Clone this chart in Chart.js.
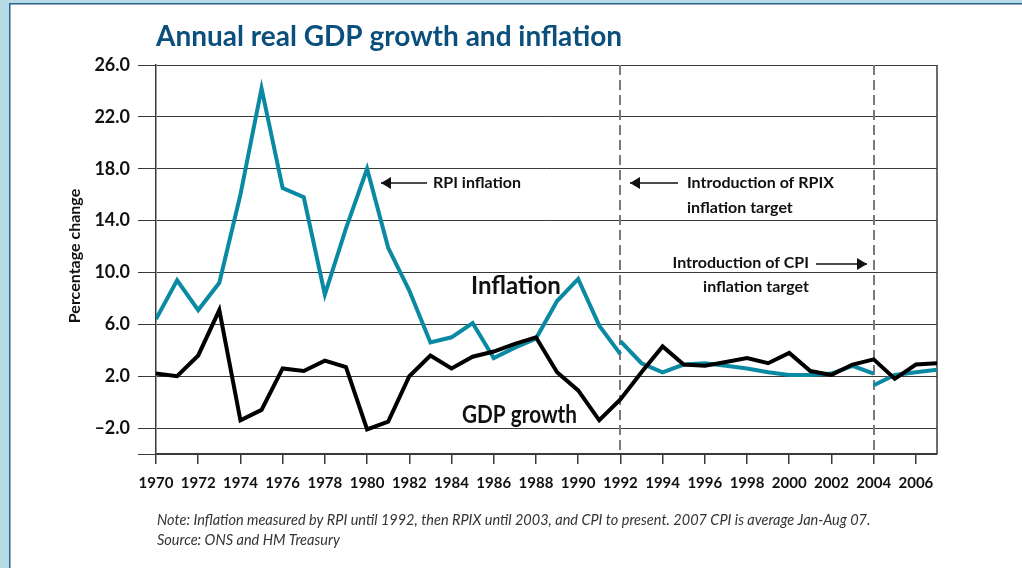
<!DOCTYPE html>
<html>
<head>
<meta charset="utf-8">
<script src="https://cdn.jsdelivr.net/npm/chart.js@4/dist/chart.umd.min.js"></script>
<style>
  html, body { margin: 0; padding: 0; background: #fff; }
  #wrap { width: 1022px; height: 568px; position: relative; }
</style>
</head>
<body>
<div id="wrap"><canvas id="gdpChart" width="1022" height="568"></canvas></div>
<script>
// --- DATOS ---
const gdpYears = [1970, 1971, 1972, 1973, 1974, 1975, 1976, 1977, 1978, 1979,
                  1980, 1981, 1982, 1983, 1984, 1985, 1986, 1987, 1988, 1989,
                  1990, 1991, 1992, 1993, 1994, 1995, 1996, 1997, 1998, 1999,
                  2000, 2001, 2002, 2003, 2004, 2005, 2006, 2007];
const gdpGrowth = [2.2, 2.0, 3.6, 7.1, -1.4, -0.6, 2.6, 2.4, 3.2, 2.7,
                   -2.1, -1.5, 2.0, 3.6, 2.6, 3.5, 3.9, 4.5, 5.0, 2.3,
                   0.9, -1.4, 0.2, 2.3, 4.3, 2.9, 2.8, 3.1, 3.4, 3.0,
                   3.8, 2.4, 2.1, 2.9, 3.3, 1.8, 2.9, 3.0];

// RPI hasta 1992
const rpiYears = [1970, 1971, 1972, 1973, 1974, 1975, 1976, 1977, 1978, 1979,
                  1980, 1981, 1982, 1983, 1984, 1985, 1986, 1987, 1988, 1989,
                  1990, 1991, 1992];
const rpiInflation = [6.4, 9.4, 7.1, 9.2, 16.0, 24.2, 16.5, 15.8, 8.3, 13.4,
                      18.0, 11.9, 8.6, 4.6, 5.0, 6.1, 3.4, 4.2, 4.9, 7.8,
                      9.5, 5.9, 3.7];
// RPIX 1992-2004
const rpixYears = [1992, 1993, 1994, 1995, 1996, 1997, 1998, 1999, 2000, 2001, 2002, 2003, 2004];
const rpixInflation = [4.7, 3.0, 2.3, 2.9, 3.0, 2.8, 2.6, 2.3, 2.1, 2.1, 2.2, 2.8, 2.2];
// CPI desde 2004
const cpiYears = [2004, 2005, 2006, 2007];
const cpiInflation = [1.3, 2.1, 2.3, 2.5];

const xTickYears = [1970, 1972, 1974, 1976, 1978, 1980, 1982, 1984, 1986, 1988,
                    1990, 1992, 1994, 1996, 1998, 2000, 2002, 2004, 2006];
const yTickValues = [-4, -2, 2, 6, 10, 14, 18, 22, 26];
const targetYears = [1992, 2004]; // lineas discontinuas

const TEAL = '#0a89a3';
const NAVY = '#0b4f7c';
const GRID = '#3a3a3a';
const FONT = 'Lato, "Open Sans", sans-serif';

function toPoints(xs, ys) {
  return xs.map((x, i) => ({ x: x, y: ys[i] }));
}

function arrow(ctx, x1, x2, y, tipLeft) {
  ctx.beginPath();
  ctx.moveTo(x1, y);
  ctx.lineTo(x2, y);
  ctx.lineWidth = 1.5;
  ctx.stroke();
  const tip = tipLeft ? x1 : x2;
  const dir = tipLeft ? 1 : -1;
  ctx.beginPath();
  ctx.moveTo(tip, y);
  ctx.lineTo(tip + dir * 10, y - 6);
  ctx.lineTo(tip + dir * 10, y + 6);
  ctx.closePath();
  ctx.fill();
}

// --- PLUGIN: marco, titulo, lineas y anotaciones ---
const decorPlugin = {
  id: 'decor',
  beforeDraw(chart) {
    const ctx = chart.ctx;
    ctx.save();
    ctx.fillStyle = '#fff';
    ctx.fillRect(0, 0, chart.width, chart.height);
    ctx.fillStyle = '#b7dce6';
    ctx.fillRect(0, 0, 9, chart.height);
    ctx.fillRect(0, 0, chart.width, 3);
    ctx.fillStyle = '#2f5f8f';
    ctx.fillRect(9, 3, 1.5, chart.height);
    ctx.fillRect(9, 3, chart.width, 1.5);

    // titulo
    ctx.fillStyle = NAVY;
    ctx.font = 'bold 28px ' + FONT;
    ctx.textBaseline = 'middle';
    ctx.fillText('Annual real GDP growth and inflation', 156, 37, 469);

    // titulo del eje Y
    ctx.save();
    ctx.translate(75, 256);
    ctx.rotate(-Math.PI / 2);
    ctx.fillStyle = '#111';
    ctx.font = 'bold 16px ' + FONT;
    ctx.textAlign = 'center';
    ctx.fillText('Percentage change', 0, 0, 138);
    ctx.restore();

    // nota al pie
    ctx.fillStyle = '#333';
    ctx.font = 'italic 14.5px ' + FONT;
    ctx.textAlign = 'left';
    ctx.fillText('Note: Inflation measured by RPI until 1992, then RPIX until 2003, and CPI to present. 2007 CPI is average Jan-Aug 07.', 157, 520, 715);
    ctx.fillText('Source: ONS and HM Treasury', 157, 540);
    ctx.restore();
  },
  beforeDatasetsDraw(chart) {
    const ctx = chart.ctx;
    const x = chart.scales.x;
    const area = chart.chartArea;
    ctx.save();
    // borde derecho
    ctx.strokeStyle = GRID;
    ctx.lineWidth = 1.5;
    ctx.beginPath();
    ctx.moveTo(area.right, area.top);
    ctx.lineTo(area.right, area.bottom);
    ctx.stroke();
    // lineas de introduccion de objetivo
    ctx.strokeStyle = '#7a7a7a';
    ctx.lineWidth = 2;
    ctx.setLineDash([10, 5]);
    targetYears.forEach(yr => {
      const px = Math.round(x.getPixelForValue(yr));
      ctx.beginPath();
      ctx.moveTo(px, area.top);
      ctx.lineTo(px, area.bottom);
      ctx.stroke();
    });
    ctx.restore();
  },
  afterDatasetsDraw(chart) {
    const ctx = chart.ctx;
    ctx.save();
    ctx.fillStyle = '#111';
    ctx.strokeStyle = '#111';
    ctx.textBaseline = 'middle';

    arrow(ctx, 381, 427, 183, true);
    ctx.font = 'bold 16px ' + FONT;
    ctx.fillText('RPI inflation', 433, 183);

    arrow(ctx, 630, 678, 183, true);
    ctx.fillText('Introduction of RPIX', 687, 183);
    ctx.fillText('inflation target', 687, 208);

    ctx.textAlign = 'right';
    ctx.fillText('Introduction of CPI', 809, 263);
    arrow(ctx, 816, 867, 264, false);
    ctx.textAlign = 'center';
    ctx.fillText('inflation target', 756, 287);

    ctx.font = 'bold 24px ' + FONT;
    ctx.textAlign = 'left';
    ctx.fillText('Inflation', 471, 286);
    ctx.fillText('GDP growth', 462, 415, 115);
    ctx.restore();
  }
};

const lineStyle = { pointRadius: 0, borderWidth: 4, tension: 0, fill: false };

new Chart(document.getElementById('gdpChart'), {
  type: 'line',
  data: {
    datasets: [
      Object.assign({ label: 'GDP growth', data: toPoints(gdpYears, gdpGrowth), borderColor: '#000' }, lineStyle),
      Object.assign({ label: 'RPI', data: toPoints(rpiYears, rpiInflation), borderColor: TEAL }, lineStyle),
      Object.assign({ label: 'RPIX', data: toPoints(rpixYears, rpixInflation), borderColor: TEAL }, lineStyle),
      Object.assign({ label: 'CPI', data: toPoints(cpiYears, cpiInflation), borderColor: TEAL }, lineStyle)
    ]
  },
  options: {
    responsive: false,
    animation: false,
    layout: { padding: { left: 10, top: 65, right: 85, bottom: 0 } },
    plugins: { legend: { display: false }, tooltip: { enabled: false } },
    scales: {
      x: {
        type: 'linear',
        min: 1970,
        max: 2007,
        afterBuildTicks: s => { s.ticks = xTickYears.map(v => ({ value: v })); },
        afterFit: s => { s.height = 114; },
        grid: { drawOnChartArea: false, color: GRID, tickLength: 10, lineWidth: 1.5 },
        border: { display: true, color: GRID, width: 1.5 },
        ticks: {
          padding: 10,
          maxRotation: 0,
          autoSkip: false,
          color: '#111',
          font: { family: FONT, weight: 'bold', size: 15 },
          callback: v => String(v)
        }
      },
      y: {
        min: -4,
        max: 26,
        afterBuildTicks: s => { s.ticks = yTickValues.map(v => ({ value: v })); },
        afterFit: s => { s.width = 146; },
        grid: { color: GRID, tickLength: 18, lineWidth: 1 },
        border: { display: true, color: GRID, width: 1.5 },
        ticks: {
          padding: 8,
          color: '#111',
          font: { family: FONT, weight: 'bold', size: 18 },
          callback: v => v === -4 ? '' : (v < 0 ? '\u2013' + Math.abs(v).toFixed(1) : v.toFixed(1))
        }
      }
    }
  },
  plugins: [decorPlugin]
});
</script>
</body>
</html>
